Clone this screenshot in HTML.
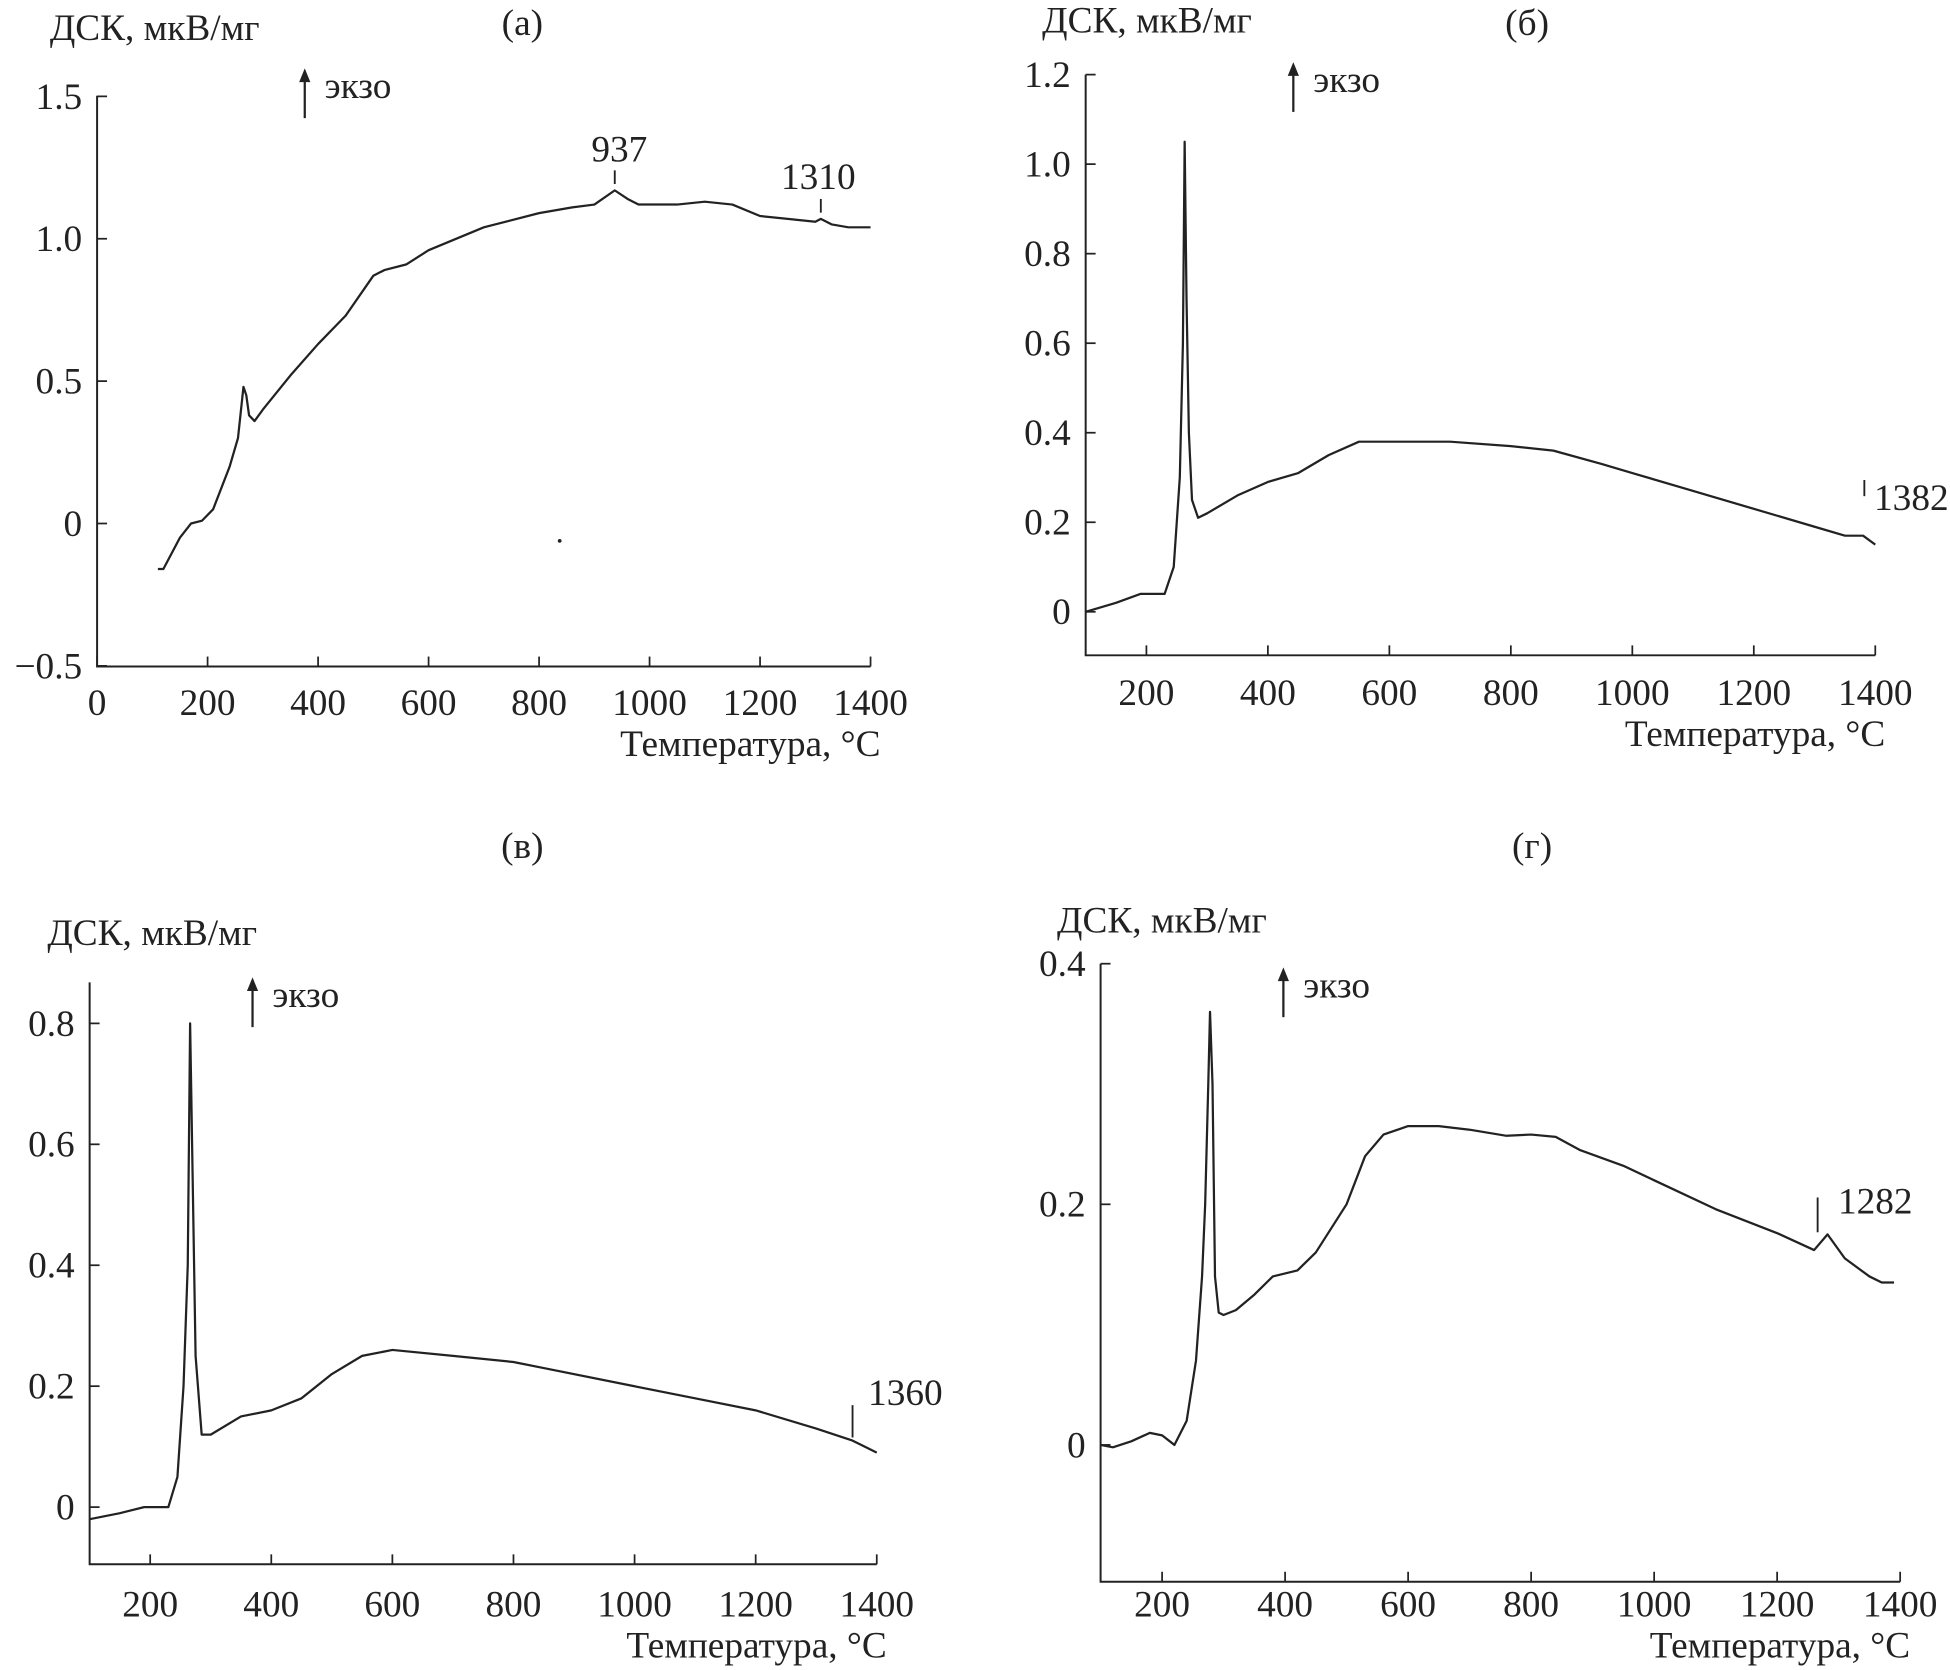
<!DOCTYPE html>
<html><head><meta charset="utf-8">
<style>
html,body{margin:0;padding:0;background:#fff;}
svg{display:block;}
text{font-family:"Liberation Serif","DejaVu Serif",serif;fill:#222;}
</style></head>
<body>
<svg id="fig" width="1950" height="1670" viewBox="0 0 1568 1343" xmlns="http://www.w3.org/2000/svg"></svg>
<script>
// Panel (a)
const tA = [110,120,150,170,190,210,240,255,265,270,275,285,300,350,400,450,500,520,560,600,700,800,860,900,937,960,980,1050,1100,1150,1200,1250,1300,1310,1330,1360,1400];
const vA = [-0.16,-0.16,-0.05,0.0,0.01,0.05,0.2,0.3,0.48,0.45,0.38,0.36,0.40,0.52,0.63,0.73,0.87,0.89,0.91,0.96,1.04,1.09,1.11,1.12,1.17,1.14,1.12,1.12,1.13,1.12,1.08,1.07,1.06,1.07,1.05,1.04,1.04];
const xTicksA = [0,200,400,600,800,1000,1200,1400];
const yTicksA = [-0.5,0,0.5,1.0,1.5];
const yLabelsA = ["\u22120.5","0","0.5","1.0","1.5"];
// Panel (б)
const tB = [100,150,190,230,245,255,260,263,266,270,275,285,300,350,400,450,500,550,600,700,800,870,950,1000,1100,1200,1300,1350,1380,1400];
const vB = [0.0,0.02,0.04,0.04,0.1,0.3,0.6,1.05,0.7,0.4,0.25,0.21,0.22,0.26,0.29,0.31,0.35,0.38,0.38,0.38,0.37,0.36,0.33,0.31,0.27,0.23,0.19,0.17,0.17,0.15];
const xTicksB = [200,400,600,800,1000,1200,1400];
const yTicksB = [0,0.2,0.4,0.6,0.8,1.0,1.2];
const yLabelsB = ["0","0.2","0.4","0.6","0.8","1.0","1.2"];
// Panel (в)
const tC = [100,150,190,230,245,255,262,266,270,275,285,300,350,400,450,500,550,600,700,800,850,1000,1100,1200,1300,1360,1380,1400];
const vC = [-0.02,-0.01,0.0,0.0,0.05,0.2,0.4,0.8,0.55,0.25,0.12,0.12,0.15,0.16,0.18,0.22,0.25,0.26,0.25,0.24,0.23,0.2,0.18,0.16,0.13,0.11,0.1,0.09];
const xTicksC = [200,400,600,800,1000,1200,1400];
const yTicksC = [0,0.2,0.4,0.6,0.8];
const yLabelsC = ["0","0.2","0.4","0.6","0.8"];
// Panel (г)
const tD = [100,120,150,180,200,220,240,255,265,270,275,278,282,286,292,300,320,350,380,420,450,500,530,560,600,650,700,760,800,840,880,950,1000,1100,1200,1260,1282,1310,1350,1370,1390];
const vD = [0.0,-0.002,0.003,0.01,0.008,0.0,0.02,0.07,0.14,0.2,0.3,0.36,0.3,0.14,0.11,0.108,0.112,0.125,0.14,0.145,0.16,0.2,0.24,0.258,0.265,0.265,0.262,0.257,0.258,0.256,0.245,0.232,0.22,0.196,0.176,0.162,0.175,0.155,0.14,0.135,0.135];
const xTicksD = [200,400,600,800,1000,1200,1400];
const yTicksD = [0,0.2,0.4];
const yLabelsD = ["0","0.2","0.4"];

const svg = document.getElementById('fig');
const NS = 'http://www.w3.org/2000/svg';
const FS = 30;
function mk(tag, attrs, parent){const e=document.createElementNS(NS,tag);for(const k in attrs)e.setAttribute(k,attrs[k]);(parent||svg).appendChild(e);return e;}

function panel(cfg){
  const g = mk('g',{});
  
  
  const sx = t => cfg.x0 + (t - cfg.t0)/(cfg.t1 - cfg.t0)*(cfg.x1 - cfg.x0);
  const sy = v => cfg.yA + (v - cfg.vA)/(cfg.vB - cfg.vA)*(cfg.yB - cfg.yA);
  const ax = mk('path',{d:`M${cfg.x0} ${cfg.yTop} V${cfg.axisY} H${cfg.x1}`,stroke:'#222','stroke-width':1.6,fill:'none'},g);
  
  
  cfg.xt.forEach(t=>{
    mk('line',{x1:sx(t),x2:sx(t),y1:cfg.axisY,y2:cfg.axisY-8,stroke:'#222','stroke-width':1.4},g);
    const l=mk('text',{x:sx(t),y:cfg.xLabY,'font-size':FS,'text-anchor':'middle'},g);
    l.textContent=t;
    
    
  });
  cfg.yt.forEach((v,i)=>{
    mk('line',{x1:cfg.x0,x2:cfg.x0+8,y1:sy(v),y2:sy(v),stroke:'#222','stroke-width':1.4},g);
    const l=mk('text',{x:cfg.x0-12,y:sy(v)+10,'font-size':FS,'text-anchor':'end'},g);
    l.textContent=cfg.yl[i];
    
    
  });
  const d = cfg.t.map((t,i)=>(i?'L':'M')+sx(t).toFixed(1)+' '+sy(cfg.v[i]).toFixed(1)).join(' ');
  const p = mk('path',{d:d,stroke:'#222','stroke-width':1.8,fill:'none','stroke-linejoin':'round'},g);
  
  
  const tt=mk('text',{x:cfg.titleX,y:cfg.titleY,'font-size':FS,'text-anchor':'middle'},g);
  tt.textContent=cfg.title;
  
  
  const yl=mk('text',{x:cfg.ylX,y:cfg.ylY,'font-size':FS},g);
  yl.textContent='ДСК, мкВ/мг';
  
  
  const xl=mk('text',{x:cfg.x1+8,y:cfg.xlY,'font-size':FS,'text-anchor':'end'},g);
  xl.textContent='Температура, °C';
  
  
  mk('line',{x1:cfg.arX,x2:cfg.arX,y1:cfg.arY+40,y2:cfg.arY+4,stroke:'#222','stroke-width':1.8},g);
  mk('path',{d:`M${cfg.arX-4.5} ${cfg.arY+11} L${cfg.arX} ${cfg.arY} L${cfg.arX+4.5} ${cfg.arY+11}Z`,fill:'#222'},g);
  const ex=mk('text',{x:cfg.arX+16,y:cfg.arY+24,'font-size':FS},g);
  ex.textContent='экзо';
  
  
  cfg.notes.forEach(n=>{
    mk('line',{x1:sx(n.t)+(n.dx||0),x2:sx(n.t)+(n.dx||0),y1:n.ty1,y2:n.ty2,stroke:'#222','stroke-width':1.5},g);
    const a=mk('text',{x:n.lx,y:n.ly,'font-size':FS,'text-anchor':n.anchor||'middle'},g);
    a.textContent=n.label;
    
    
  });
}

panel({id:'a',t:tA,v:vA,xt:xTicksA,yt:yTicksA,yl:yLabelsA,x0:78,x1:700,t0:0,t1:1400,vA:0,yA:421,vB:1.0,yB:192,
  yTop:77,axisY:536,xLabY:575,xlY:608,title:'(а)',titleX:420,titleY:28,ylX:40,ylY:32,arX:245,arY:55,
  notes:[{t:937,ty1:137,ty2:148,label:'937',lx:498,ly:130},{t:1310,ty1:160,ty2:171,label:'1310',lx:658,ly:152}]});
panel({id:'b',t:tB,v:vB,xt:xTicksB,yt:yTicksB,yl:yLabelsB,x0:873,x1:1508,t0:100,t1:1400,vA:0,yA:492,vB:1.0,yB:132,
  yTop:60,axisY:527,xLabY:567,xlY:600,title:'(б)',titleX:1228,titleY:28,ylX:838,ylY:26,arX:1040,arY:50,
  notes:[{t:1382,dx:0,ty1:386,ty2:399,label:'1382',lx:1507,ly:410,anchor:'start'}]});
panel({id:'c',t:tC,v:vC,xt:xTicksC,yt:yTicksC,yl:yLabelsC,x0:72,x1:705,t0:100,t1:1400,vA:0,yA:1212,vB:0.8,yB:823,
  yTop:790,axisY:1258,xLabY:1300,xlY:1333,title:'(в)',titleX:420,titleY:690,ylX:38,ylY:760,arX:203,arY:786,
  notes:[{t:1360,ty1:1130,ty2:1156,label:'1360',lx:698,ly:1130,anchor:'start'}]});
panel({id:'d',t:tD,v:vD,xt:xTicksD,yt:yTicksD,yl:yLabelsD,x0:885,x1:1528,t0:100,t1:1400,vA:0,yA:1162,vB:0.4,yB:775,
  yTop:775,axisY:1272,xLabY:1300,xlY:1333,title:'(г)',titleX:1232,titleY:690,ylX:850,ylY:750,arX:1032,arY:778,
  notes:[{t:1282,dx:-8,ty1:963,ty2:991,label:'1282',lx:1478,ly:976,anchor:'start'}]});
mk('circle',{cx:450,cy:435,r:1.5,fill:'#222'});
</script>
</body></html>
